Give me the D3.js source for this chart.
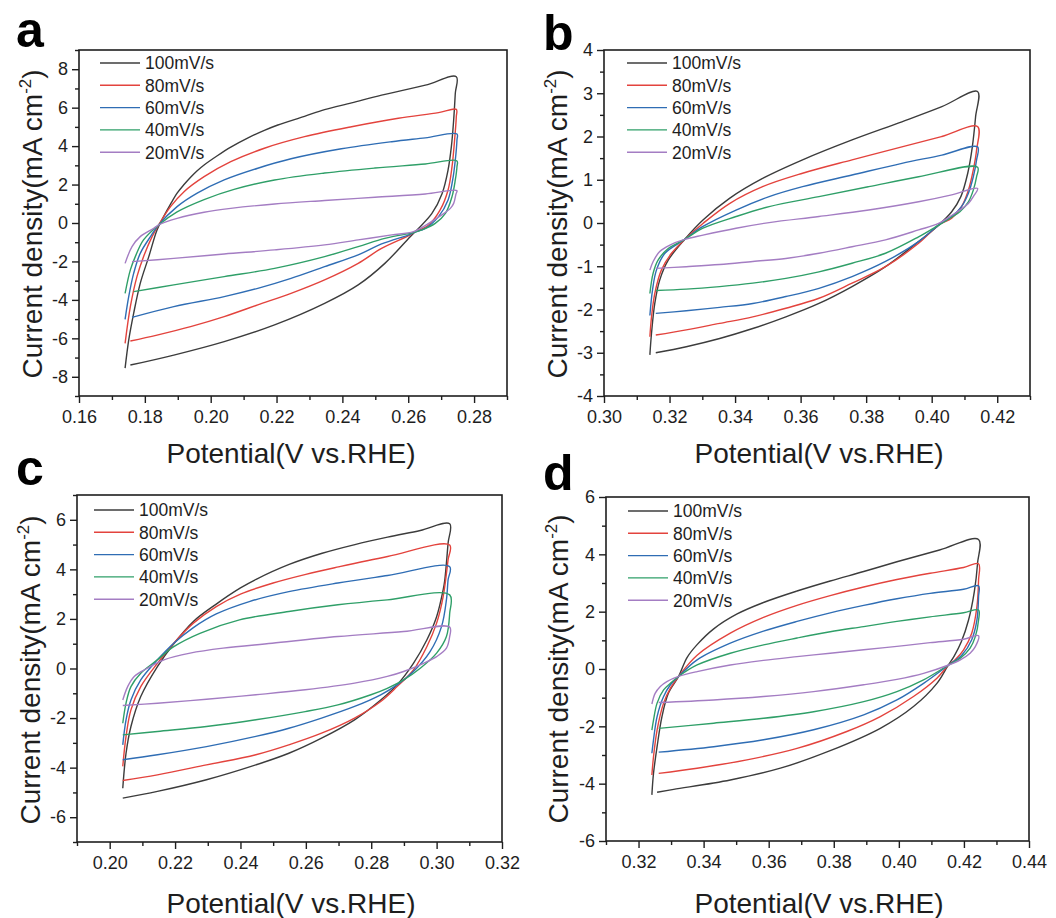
<!DOCTYPE html>
<html>
<head>
<meta charset="utf-8">
<script src="https://cdn.jsdelivr.net/npm/d3@7"></script>
<style>
  html, body { margin: 0; padding: 0; background: #fff; }
  svg { display: block; font-family: "Liberation Sans", Arial, sans-serif; }
</style>
</head>
<body>
<svg id="fig" width="1056" height="918"></svg>
<script>
// scan rates shown in every legend
const scanRates = ['100mV/s', '80mV/s', '60mV/s', '40mV/s', '20mV/s'];
const rateColors = ['#3c3c3c', '#e3433d', '#2f6db4', '#2f9f68', '#a47dc3'];

// axis ticks per panel
const aXTicks = [0.16, 0.18, 0.20, 0.22, 0.24, 0.26, 0.28];
const aYTicks = [-8, -6, -4, -2, 0, 2, 4, 6, 8];
const bXTicks = [0.30, 0.32, 0.34, 0.36, 0.38, 0.40, 0.42];
const bYTicks = [-4, -3, -2, -1, 0, 1, 2, 3, 4];
const cXTicks = [0.20, 0.22, 0.24, 0.26, 0.28, 0.30, 0.32];
const cYTicks = [-6, -4, -2, 0, 2, 4, 6];
const dXTicks = [0.32, 0.34, 0.36, 0.38, 0.40, 0.42, 0.44];
const dYTicks = [-6, -4, -2, 0, 2, 4, 6];

// CV loops, [potential V, current density mA cm-2]
const a100 = [[0.1740,-7.55],[0.1751,-6.09],[0.1766,-4.70],[0.1786,-3.14],[0.1812,-1.75],[0.1837,-0.36],[0.1857,0.33],[0.1878,0.98],[0.1898,1.55],[0.1919,2.00],[0.1939,2.38],[0.1959,2.72],[0.1980,3.02],[0.2020,3.50],[0.2061,3.95],[0.2112,4.42],[0.2163,4.82],[0.2204,5.10],[0.2285,5.55],[0.2346,5.90],[0.2428,6.25],[0.2519,6.65],[0.2652,7.17],[0.2746,7.61],
  [0.2743,6.75],[0.2738,5.36],[0.2731,3.97],[0.2721,2.76],[0.2703,1.54],[0.2672,0.50],[0.2631,-0.28],[0.2606,-0.71],[0.2529,-2.10],[0.2448,-3.22],[0.2346,-4.18],[0.2194,-5.30],[0.2041,-6.17],[0.1888,-6.87],[0.1756,-7.39]];
const a80 = [[0.1740,-6.26],[0.1756,-4.35],[0.1776,-2.79],[0.1796,-1.75],[0.1822,-0.71],[0.1842,-0.10],[0.1878,0.85],[0.1919,1.63],[0.1980,2.41],[0.2061,3.19],[0.2163,3.89],[0.2285,4.49],[0.2428,5.01],[0.2570,5.45],[0.2692,5.74],[0.2746,5.91],
  [0.2746,5.53],[0.2740,4.15],[0.2733,2.93],[0.2721,1.72],[0.2697,0.68],[0.2662,-0.10],[0.2616,-0.50],[0.2606,-0.62],[0.2519,-1.32],[0.2448,-2.10],[0.2346,-2.96],[0.2244,-3.66],[0.2143,-4.26],[0.2041,-4.87],[0.1939,-5.39],[0.1837,-5.83],[0.1756,-6.14]];
const a60 = [[0.1740,-5.01],[0.1751,-3.83],[0.1766,-2.62],[0.1786,-1.58],[0.1817,-0.71],[0.1842,-0.10],[0.1898,0.85],[0.1959,1.55],[0.2041,2.24],[0.2143,2.85],[0.2244,3.34],[0.2397,3.86],[0.2550,4.23],[0.2652,4.43],[0.2748,4.63],
  [0.2748,4.32],[0.2743,3.28],[0.2735,2.24],[0.2721,1.20],[0.2692,0.33],[0.2652,-0.28],[0.2616,-0.50],[0.2606,-0.59],[0.2519,-1.09],[0.2448,-1.66],[0.2346,-2.27],[0.2244,-2.88],[0.2143,-3.40],[0.2041,-3.83],[0.1888,-4.35],[0.1761,-4.91]];
const a40 = [[0.1740,-3.66],[0.1756,-2.44],[0.1771,-1.75],[0.1796,-0.88],[0.1842,-0.10],[0.1898,0.58],[0.1980,1.22],[0.2071,1.75],[0.2194,2.24],[0.2346,2.60],[0.2499,2.86],[0.2652,3.07],[0.2748,3.23],
  [0.2748,2.93],[0.2743,2.24],[0.2733,1.37],[0.2713,0.50],[0.2682,-0.02],[0.2641,-0.36],[0.2616,-0.50],[0.2606,-0.54],[0.2529,-0.80],[0.2448,-1.23],[0.2346,-1.75],[0.2194,-2.36],[0.2041,-2.79],[0.1888,-3.22],[0.1766,-3.57]];
const a20 = [[0.1740,-2.10],[0.1761,-1.23],[0.1786,-0.71],[0.1827,-0.28],[0.1842,-0.10],[0.1898,0.24],[0.1980,0.56],[0.2061,0.76],[0.2194,0.99],[0.2346,1.17],[0.2499,1.34],[0.2652,1.51],[0.2748,1.68],
  [0.2745,1.51],[0.2738,1.02],[0.2728,0.76],[0.2702,0.42],[0.2662,-0.02],[0.2616,-0.45],[0.2550,-0.62],[0.2448,-0.88],[0.2346,-1.14],[0.2194,-1.40],[0.2041,-1.61],[0.1888,-1.84],[0.1761,-2.01]];

const b100 = [[0.3140,-3.05],[0.3145,-2.55],[0.3155,-1.86],[0.3170,-1.32],[0.3196,-0.86],[0.3246,-0.38],[0.3302,0.07],[0.3383,0.57],[0.3484,1.03],[0.3606,1.46],[0.3757,1.92],[0.3909,2.34],[0.4031,2.69],[0.4140,3.04],
  [0.4134,2.46],[0.4124,1.76],[0.4110,1.15],[0.4089,0.61],[0.4061,0.26],[0.4021,-0.05],[0.3960,-0.43],[0.3859,-1.01],[0.3757,-1.47],[0.3656,-1.86],[0.3555,-2.17],[0.3454,-2.44],[0.3353,-2.67],[0.3251,-2.86],[0.3158,-3.00]];
const b80 = [[0.3140,-2.63],[0.3145,-2.17],[0.3155,-1.63],[0.3175,-1.09],[0.3206,-0.70],[0.3246,-0.38],[0.3302,-0.01],[0.3383,0.45],[0.3484,0.84],[0.3606,1.15],[0.3757,1.46],[0.3909,1.76],[0.4031,2.00],[0.4140,2.23],
  [0.4137,1.69],[0.4127,1.23],[0.4112,0.76],[0.4091,0.38],[0.4061,0.11],[0.4021,-0.05],[0.3960,-0.47],[0.3859,-1.01],[0.3757,-1.39],[0.3656,-1.74],[0.3555,-1.97],[0.3454,-2.17],[0.3353,-2.32],[0.3251,-2.47],[0.3158,-2.59]];
const b60 = [[0.3140,-2.14],[0.3148,-1.55],[0.3160,-1.09],[0.3186,-0.70],[0.3246,-0.38],[0.3302,-0.08],[0.3403,0.30],[0.3504,0.61],[0.3606,0.84],[0.3757,1.11],[0.3909,1.38],[0.4031,1.57],[0.4140,1.76],
  [0.4137,1.46],[0.4127,1.07],[0.4112,0.69],[0.4091,0.38],[0.4061,0.15],[0.4021,-0.05],[0.3960,-0.43],[0.3859,-0.89],[0.3757,-1.24],[0.3656,-1.51],[0.3555,-1.70],[0.3454,-1.86],[0.3353,-1.95],[0.3251,-2.03],[0.3158,-2.09]];
const b40 = [[0.3140,-1.63],[0.3150,-1.16],[0.3165,-0.86],[0.3196,-0.59],[0.3246,-0.38],[0.3302,-0.12],[0.3403,0.15],[0.3504,0.38],[0.3656,0.61],[0.3808,0.84],[0.3960,1.07],[0.4140,1.29],
  [0.4137,1.07],[0.4127,0.76],[0.4112,0.49],[0.4086,0.26],[0.4056,0.11],[0.4021,-0.05],[0.3960,-0.32],[0.3859,-0.70],[0.3757,-0.93],[0.3656,-1.13],[0.3555,-1.28],[0.3454,-1.39],[0.3353,-1.47],[0.3251,-1.53],[0.3158,-1.56]];
const b20 = [[0.3140,-1.09],[0.3150,-0.89],[0.3170,-0.66],[0.3201,-0.51],[0.3246,-0.38],[0.3302,-0.28],[0.3403,-0.12],[0.3504,0.01],[0.3656,0.15],[0.3808,0.30],[0.3960,0.49],[0.4061,0.65],[0.4140,0.80],
  [0.4127,0.61],[0.4112,0.45],[0.4086,0.30],[0.4056,0.15],[0.4021,-0.01],[0.3960,-0.16],[0.3859,-0.39],[0.3757,-0.55],[0.3656,-0.70],[0.3555,-0.82],[0.3454,-0.89],[0.3353,-0.96],[0.3251,-1.01],[0.3158,-1.05]];

const c100 = [[0.2040,-4.83],[0.2050,-3.42],[0.2065,-2.34],[0.2095,-1.13],[0.2146,0.08],[0.2196,1.00],[0.2256,1.90],[0.2326,2.60],[0.2400,3.25],[0.2448,3.60],[0.2549,4.20],[0.2650,4.65],[0.2750,5.00],[0.2850,5.30],[0.2950,5.57],[0.3040,5.84],
  [0.3035,5.05],[0.3025,3.57],[0.3020,3.17],[0.3000,2.09],[0.2970,1.15],[0.2929,0.21],[0.2879,-0.66],[0.2829,-1.27],[0.2749,-2.07],[0.2648,-2.81],[0.2548,-3.42],[0.2447,-3.89],[0.2296,-4.49],[0.2146,-4.96],[0.2040,-5.23]];
const c80 = [[0.2040,-3.95],[0.2050,-2.74],[0.2065,-1.67],[0.2095,-0.73],[0.2146,0.21],[0.2196,1.02],[0.2256,1.83],[0.2326,2.50],[0.2400,3.00],[0.2500,3.45],[0.2600,3.80],[0.2700,4.10],[0.2850,4.52],[0.3040,4.98],
  [0.3035,4.38],[0.3020,2.90],[0.3000,1.83],[0.2970,0.88],[0.2929,-0.06],[0.2879,-0.73],[0.2829,-1.33],[0.2749,-2.00],[0.2648,-2.61],[0.2548,-3.08],[0.2447,-3.48],[0.2296,-3.89],[0.2146,-4.29],[0.2040,-4.52]];
const c60 = [[0.2040,-3.08],[0.2050,-2.07],[0.2065,-1.27],[0.2095,-0.46],[0.2146,0.35],[0.2196,1.02],[0.2256,1.65],[0.2326,2.20],[0.2427,2.70],[0.2548,3.10],[0.2698,3.45],[0.2850,3.75],[0.3040,4.11],
  [0.3035,3.57],[0.3030,2.77],[0.3015,1.69],[0.2980,0.68],[0.2929,-0.12],[0.2879,-0.66],[0.2829,-1.06],[0.2749,-1.53],[0.2648,-2.00],[0.2548,-2.41],[0.2447,-2.74],[0.2296,-3.15],[0.2146,-3.48],[0.2040,-3.68]];
const c40 = [[0.2040,-2.21],[0.2050,-1.40],[0.2065,-0.73],[0.2095,-0.19],[0.2146,0.35],[0.2196,0.88],[0.2276,1.42],[0.2397,1.96],[0.2548,2.30],[0.2698,2.57],[0.2849,2.77],[0.3040,2.97],
  [0.3040,2.23],[0.3030,1.29],[0.3000,0.62],[0.2950,0.01],[0.2899,-0.46],[0.2849,-0.80],[0.2799,-1.06],[0.2698,-1.47],[0.2598,-1.74],[0.2447,-2.07],[0.2296,-2.34],[0.2146,-2.54],[0.2040,-2.68]];
const c20 = [[0.2040,-1.27],[0.2055,-0.73],[0.2075,-0.32],[0.2115,0.01],[0.2166,0.35],[0.2246,0.62],[0.2347,0.82],[0.2497,1.02],[0.2698,1.29],[0.2899,1.49],[0.3040,1.67],
  [0.3040,1.29],[0.3030,0.82],[0.3000,0.48],[0.2960,0.21],[0.2899,-0.12],[0.2849,-0.32],[0.2749,-0.59],[0.2598,-0.86],[0.2447,-1.06],[0.2296,-1.24],[0.2146,-1.40],[0.2040,-1.49]];

const d100 = [[0.3241,-4.39],[0.3246,-3.64],[0.3257,-2.71],[0.3272,-1.66],[0.3292,-0.84],[0.3323,-0.26],[0.3349,0.40],[0.3380,0.85],[0.3431,1.40],[0.3503,1.92],[0.3584,2.32],[0.3687,2.72],[0.3789,3.07],[0.3892,3.40],[0.3994,3.74],[0.4125,4.15],[0.4245,4.52],
  [0.4242,3.70],[0.4232,2.70],[0.4214,1.70],[0.4192,0.95],[0.4170,0.45],[0.4150,0.10],[0.4117,-0.50],[0.4045,-1.31],[0.3943,-2.07],[0.3789,-2.85],[0.3636,-3.46],[0.3482,-3.87],[0.3308,-4.20],[0.3257,-4.30]];
const d80 = [[0.3241,-3.70],[0.3246,-3.06],[0.3257,-2.13],[0.3277,-1.19],[0.3298,-0.67],[0.3323,-0.26],[0.3380,0.48],[0.3482,1.25],[0.3584,1.80],[0.3687,2.22],[0.3789,2.56],[0.3892,2.86],[0.3994,3.12],[0.4096,3.34],[0.4199,3.54],[0.4245,3.67],
  [0.4245,3.11],[0.4240,2.18],[0.4224,1.25],[0.4199,0.67],[0.4173,0.32],[0.4153,0.14],[0.4117,-0.32],[0.4045,-0.96],[0.3943,-1.66],[0.3840,-2.18],[0.3687,-2.77],[0.3533,-3.17],[0.3380,-3.46],[0.3262,-3.64]];
const d60 = [[0.3241,-2.94],[0.3246,-2.47],[0.3257,-1.66],[0.3277,-0.96],[0.3298,-0.55],[0.3323,-0.26],[0.3380,0.32],[0.3482,0.90],[0.3584,1.32],[0.3687,1.66],[0.3789,1.96],[0.3892,2.22],[0.3994,2.45],[0.4096,2.64],[0.4199,2.78],[0.4245,2.90],
  [0.4245,2.53],[0.4240,1.71],[0.4224,1.02],[0.4194,0.49],[0.4153,0.14],[0.4076,-0.50],[0.3994,-1.08],[0.3892,-1.60],[0.3738,-2.12],[0.3584,-2.47],[0.3431,-2.71],[0.3262,-2.90]];
const d40 = [[0.3241,-2.13],[0.3246,-1.78],[0.3257,-1.19],[0.3277,-0.73],[0.3298,-0.50],[0.3323,-0.26],[0.3380,0.14],[0.3482,0.55],[0.3584,0.84],[0.3687,1.08],[0.3789,1.30],[0.3892,1.48],[0.3994,1.66],[0.4096,1.82],[0.4199,1.96],[0.4245,2.06],
  [0.4245,1.71],[0.4235,1.13],[0.4219,0.73],[0.4189,0.38],[0.4153,0.14],[0.4076,-0.38],[0.3994,-0.79],[0.3892,-1.14],[0.3738,-1.49],[0.3584,-1.72],[0.3431,-1.89],[0.3262,-2.07]];
const d20 = [[0.3241,-1.22],[0.3251,-0.85],[0.3267,-0.61],[0.3287,-0.44],[0.3323,-0.26],[0.3380,-0.09],[0.3482,0.14],[0.3584,0.30],[0.3687,0.43],[0.3789,0.55],[0.3892,0.67],[0.3994,0.79],[0.4096,0.92],[0.4199,1.04],[0.4245,1.16],
  [0.4235,0.78],[0.4219,0.55],[0.4189,0.32],[0.4153,0.14],[0.4076,-0.15],[0.3994,-0.36],[0.3892,-0.55],[0.3738,-0.79],[0.3584,-0.96],[0.3431,-1.08],[0.3262,-1.17]];

// panel layout (pixel boxes of the plot frames, label spots)
const panels = [
  { letter: 'a', loops: [a100, a80, a60, a40, a20], xDomain: [0.16, 0.29], yDomain: [-9, 9], xTicks: aXTicks, yTicks: aYTicks,
    box: { left: 79, top: 50, right: 507, bottom: 396 }, letterAt: [16, 47], xTitleAt: [291, 463], yTitleAt: [42, 224], legendAt: [100, 63] },
  { letter: 'b', loops: [b100, b80, b60, b40, b20], xDomain: [0.30, 0.43], yDomain: [-4, 4], xTicks: bXTicks, yTicks: bYTicks,
    box: { left: 604, top: 50, right: 1030, bottom: 396 }, letterAt: [543, 50], xTitleAt: [819, 463], yTitleAt: [567, 224], legendAt: [627, 63] },
  { letter: 'c', loops: [c100, c80, c60, c40, c20], xDomain: [0.19, 0.32], yDomain: [-7, 7], xTicks: cXTicks, yTicks: cYTicks,
    box: { left: 77, top: 495, right: 502, bottom: 842 }, letterAt: [16, 485], xTitleAt: [291, 913], yTitleAt: [40, 670], legendAt: [94, 510] },
  { letter: 'd', loops: [d100, d80, d60, d40, d20], xDomain: [0.31, 0.44], yDomain: [-6, 6], xTicks: dXTicks, yTicks: dYTicks,
    box: { left: 606, top: 497, right: 1029, bottom: 841 }, letterAt: [543, 490], xTitleAt: [819, 913], yTitleAt: [568, 669], legendAt: [628, 511] }
];

const svg = d3.select('#fig');
const ink = '#1e1e1e';

// minor ticks sit halfway between the labelled ones, across the whole domain
function minorTicks(domain, major) {
  const step = (major[1] - major[0]) / 2;
  const lo = Math.ceil(domain[0] / step - 1e-6);
  const hi = Math.floor(domain[1] / step + 1e-6);
  return d3.range(lo, hi + 1).map(i => +(i * step).toFixed(4))
    .filter(v => !major.some(m => Math.abs(m - v) < step / 10));
}

function styleAxis(sel) {
  sel.select('.domain').remove();
  sel.selectAll('.tick line').attr('stroke', ink).attr('stroke-width', 1.4);
  sel.selectAll('.tick text').attr('fill', ink).attr('font-size', 18);
}

function drawPanel(p) {
  const g = svg.append('g');
  const x = d3.scaleLinear().domain(p.xDomain).range([p.box.left, p.box.right]);
  const y = d3.scaleLinear().domain(p.yDomain).range([p.box.bottom, p.box.top]);

  // axes
  g.append('g').attr('transform', `translate(0,${p.box.bottom})`)
    .call(d3.axisBottom(x).tickValues(minorTicks(p.xDomain, p.xTicks)).tickSize(4).tickSizeOuter(0).tickFormat(''))
    .call(styleAxis);
  g.append('g').attr('transform', `translate(0,${p.box.bottom})`)
    .call(d3.axisBottom(x).tickValues(p.xTicks).tickSize(7).tickPadding(7).tickSizeOuter(0).tickFormat(d3.format('.2f')))
    .call(styleAxis);
  g.append('g').attr('transform', `translate(${p.box.left},0)`)
    .call(d3.axisLeft(y).tickValues(minorTicks(p.yDomain, p.yTicks)).tickSize(4).tickSizeOuter(0).tickFormat(''))
    .call(styleAxis);
  g.append('g').attr('transform', `translate(${p.box.left},0)`)
    .call(d3.axisLeft(y).tickValues(p.yTicks).tickSize(7).tickPadding(4).tickSizeOuter(0).tickFormat(d => String(d)))
    .call(styleAxis);

  // CV loops
  const line = d3.line()
    .x(d => x(d[0]))
    .y(d => y(d[1]))
    .curve(d3.curveCatmullRom.alpha(0.5));

  g.append('g').selectAll('path')
    .data(p.loops)
    .join('path')
    .attr('d', line)
    .attr('fill', 'none')
    .attr('stroke', (d, i) => rateColors[i])
    .attr('stroke-width', 1.4)
    .attr('stroke-linejoin', 'round');

  // frame
  g.append('rect')
    .attr('x', p.box.left).attr('y', p.box.top)
    .attr('width', p.box.right - p.box.left).attr('height', p.box.bottom - p.box.top)
    .attr('fill', 'none').attr('stroke', ink).attr('stroke-width', 1.6);

  // legend
  const leg = g.append('g').selectAll('g')
    .data(scanRates)
    .join('g')
    .attr('transform', (d, i) => `translate(${p.legendAt[0]},${p.legendAt[1] + i * 22.3})`);
  leg.append('line')
    .attr('x1', 0).attr('x2', 40)
    .attr('stroke', (d, i) => rateColors[i]).attr('stroke-width', 1.4);
  leg.append('text')
    .attr('x', 45).attr('dy', '0.36em')
    .attr('font-size', 17.5).attr('fill', ink)
    .text(d => d);

  // axis titles
  g.append('text')
    .attr('x', p.xTitleAt[0]).attr('y', p.xTitleAt[1])
    .attr('text-anchor', 'middle').attr('font-size', 28).attr('fill', ink)
    .text('Potential(V vs.RHE)');

  const yt = g.append('text')
    .attr('transform', `translate(${p.yTitleAt[0]},${p.yTitleAt[1]}) rotate(-90)`)
    .attr('text-anchor', 'middle').attr('font-size', 28).attr('fill', ink);
  yt.append('tspan').text('Current density(mA cm');
  yt.append('tspan').attr('dy', -11).attr('font-size', 17).text('-2');
  yt.append('tspan').attr('dy', 11).text(')');

  // panel letter
  g.append('text')
    .attr('x', p.letterAt[0]).attr('y', p.letterAt[1])
    .attr('font-size', 50).attr('font-weight', 'bold').attr('fill', '#000')
    .text(p.letter);
}

panels.forEach(drawPanel);
</script>
</body>
</html>
